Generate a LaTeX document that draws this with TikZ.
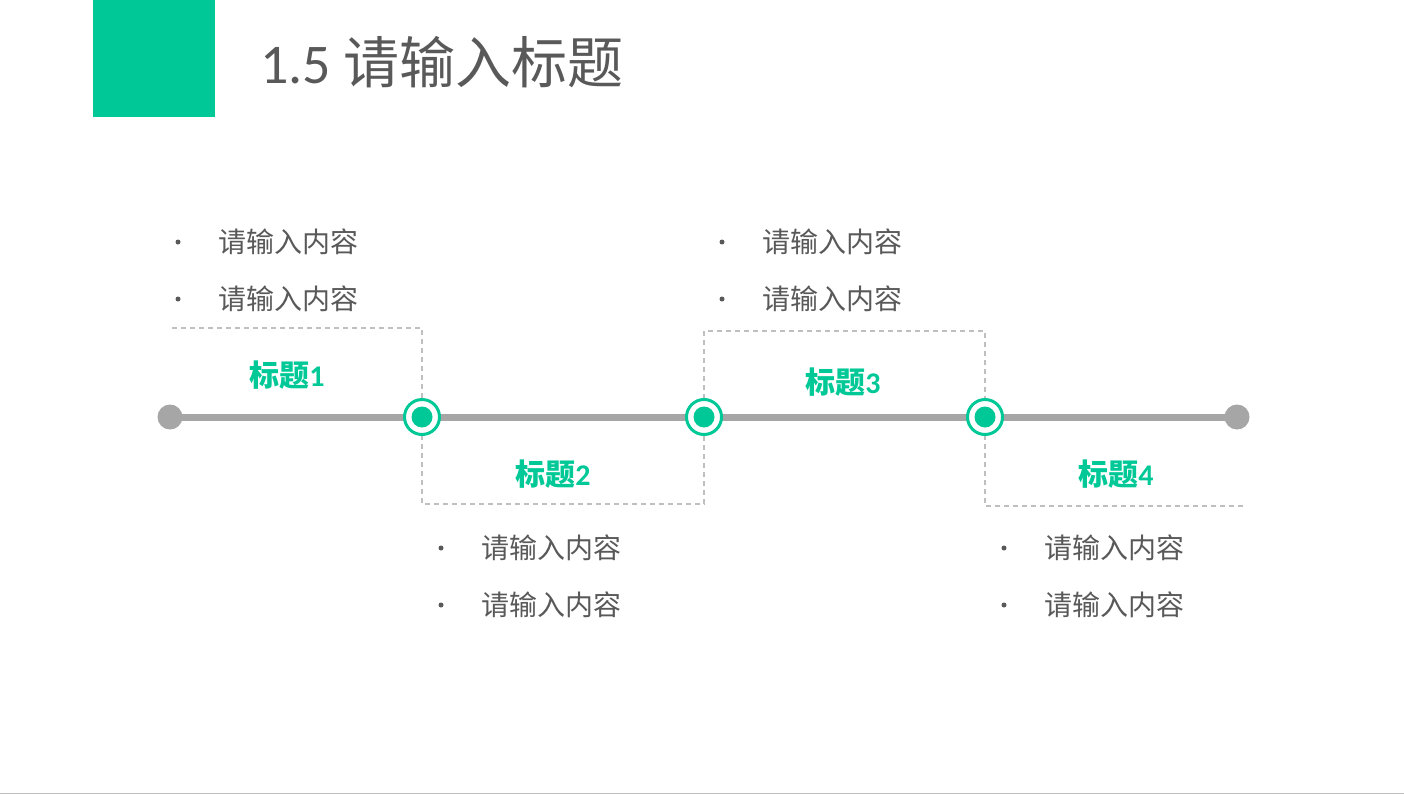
\documentclass[tikz,border=0pt]{standalone}
\usepackage{fontspec}
\setmainfont{Noto Sans CJK SC}
\newfontfamily\lat{Carlito}
\definecolor{grn}{HTML}{00C896}
\definecolor{txt}{HTML}{595959}
\definecolor{ln}{HTML}{A6A6A6}
\definecolor{dsh}{HTML}{BFBFBF}
\tikzset{
 ttl/.style={font=\fontsize{30}{30}\selectfont\bfseries, text=grn, inner sep=0pt},
 itm/.style={font=\fontsize{28}{28}\selectfont, text=txt, anchor=west, inner sep=0pt},
 bul/.style={circle, fill=txt, inner sep=0pt, minimum size=5pt},
 dline/.style={dsh, dashed, line width=1.3pt, dash pattern=on 5pt off 4pt},
 endd/.style={circle, fill=ln, minimum size=25pt, inner sep=0pt},
 mark2/.style={circle, draw=grn, fill=white, line width=3pt, minimum size=35pt, inner sep=0pt},
}
\begin{document}
\begin{tikzpicture}[x=1pt,y=-1pt]
\useasboundingbox (0,0) rectangle (1404,795);
\fill[grn] (93,0) rectangle (215,117);
\node[anchor=west, inner sep=0pt, text=txt, font=\fontsize{56}{56}\selectfont] (title) at (260,62) {{\lat 1.5} 请输入标题};
\draw[dsh, line width=1pt] (0,793) -- (1404,793);
% dashed boxes
\draw[dline] (172,328) -- (422,328) -- (422,417);
\draw[dline] (422,417) -- (422,504) -- (704,504) -- (704,417);
\draw[dline] (704,417) -- (704,331) -- (985,331) -- (985,417);
\draw[dline] (985,417) -- (985,506) -- (1245,506);
% timeline
\node[endd] (e1) at (170,417) {};
\node[endd] (e2) at (1237,417) {};
\draw[ln, line width=7pt] (e1.center) -- (e2.center);
\foreach \x/\n in {422/m1,704/m2,985/m3}{
 \node[mark2] (\n) at (\x,417) {};
 \fill[grn] (\n.center) circle (10.5pt);
}
\node[ttl] (t1) at (287,375) {标题{\lat 1}};
\node[ttl] (t2) at (553,474) {标题{\lat 2}};
\node[ttl] (t3) at (843,382) {标题{\lat 3}};
\node[ttl] (t4) at (1116,474) {标题{\lat 4}};
\foreach \bx/\ya/\yb/\k in {178/242/299/a,441/548/605/b,722/242/299/c,1004/548/605/d}{
 \node[bul] (b1\k) at (\bx,\ya) {};
 \node[bul] (b2\k) at (\bx,\yb) {};
 \node[itm] (i1\k) at (\bx+40,\ya) {请输入内容};
 \node[itm] (i2\k) at (\bx+40,\yb) {请输入内容};
}
\end{tikzpicture}
\end{document}
